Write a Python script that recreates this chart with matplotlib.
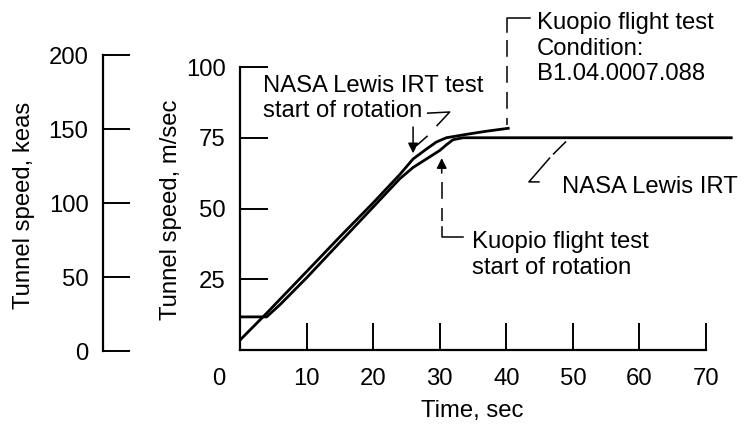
import matplotlib
matplotlib.use("Agg")
import matplotlib.pyplot as plt

plt.rcParams["font.family"] = ["Liberation Sans", "DejaVu Sans"]
FS = 17.2

# ---- data ----------------------------------------------------------------
# NASA Lewis IRT tunnel speed history (m/sec)
irt_time = [0, 4, 6, 10, 15, 20, 24, 26, 28, 30, 31, 32, 33.5, 74]
irt_speed = [11.7, 11.7, 16, 25.5, 38, 50.5, 60.5, 64.5, 67.5, 70.5, 72.5, 74.3, 75, 75]

# Kuopio flight test, condition B1.04.0007.088 (m/sec)
kuopio_time = [0, 4, 10, 15, 20, 24, 26, 28, 29.5, 31, 34, 37, 40.5]
kuopio_speed = [3.5, 13, 27.7, 40, 52, 62, 67.5, 71, 73.5, 75, 76.2, 77.3, 78.4]

time_ticks = [10, 20, 30, 40, 50, 60, 70]
ms_ticks = [25, 50, 75, 100]
keas_ticks = [0, 50, 100, 150, 200]

# ---- figure ----------------------------------------------------------------
W, H = 751, 429
fig = plt.figure(figsize=(W / 100, H / 100), dpi=100)

ax = fig.add_axes([240 / W, 1 - 350 / H, (706 - 240) / W, (350 - 67) / H])
axk = fig.add_axes([103 / W, 1 - 351 / H, 30 / W, (351 - 55) / H])

# main axes
ax.plot(irt_time, irt_speed, color="black", lw=2.0, clip_on=False,
        solid_capstyle="butt")
ax.plot(kuopio_time, kuopio_speed, color="black", lw=2.0, clip_on=False,
        solid_capstyle="butt")

ax.set_xlim(0, 70)
ax.set_ylim(0, 100)
for s in ("top", "right"):
    ax.spines[s].set_visible(False)
for s in ("left", "bottom"):
    ax.spines[s].set_linewidth(1.6)

ax.set_xticks(time_ticks)
ax.set_xticklabels([str(t) for t in time_ticks])
ax.set_yticks(ms_ticks)
ax.set_yticklabels([str(v) for v in ms_ticks])
ax.tick_params(axis="x", direction="in", length=19.5, width=1.4, pad=13,
               labelsize=FS)
ax.tick_params(axis="y", direction="in", length=20, width=1.4, pad=10.5,
               labelsize=FS)
# origin label sits left of the corner
ax.annotate("0", xy=(-3.2, 0), xycoords=("data", "axes fraction"),
            xytext=(0, -13), textcoords="offset points",
            ha="center", va="top", fontsize=FS)

ax.set_xlabel("Time, sec", fontsize=FS)
ax.xaxis.set_label_coords(472 / W, 1 - 400 / H, transform=fig.transFigure)
ax.set_ylabel("Tunnel speed, m/sec", fontsize=FS)
ax.yaxis.set_label_coords(182 / W, 1 - 210 / H, transform=fig.transFigure)

# keas scale
axk.set_ylim(0, 200)
axk.set_yticks(keas_ticks)
axk.set_yticklabels([str(v) for v in keas_ticks])
axk.tick_params(axis="y", direction="in", length=19.5, width=1.4, pad=10.5,
                labelsize=FS)
axk.xaxis.set_visible(False)
for s in ("top", "right", "bottom"):
    axk.spines[s].set_visible(False)
axk.spines["left"].set_linewidth(1.6)
axk.patch.set_visible(False)
axk.set_ylabel("Tunnel speed, keas", fontsize=FS)
axk.yaxis.set_label_coords(35 / W, 1 - 205 / H, transform=fig.transFigure)

# ---- annotations -----------------------------------------------------------
lead = dict(color="black", lw=1.1, clip_on=False)
dash = (0, (11, 6))
arrow = dict(arrowstyle="-|>", color="black", lw=1.1, mutation_scale=15,
             shrinkA=0, shrinkB=0)

# y given for the baseline of the last line
ax.text(3.45, 82.3, "NASA Lewis IRT test\nstart of rotation", fontsize=FS,
        ha="left", va="baseline")
ax.plot([28.2, 31.5, 29.6], [83.7, 84.1, 79.3], **lead)
ax.plot([28.1, 26.6], [75.5, 72.4], **lead)
ax.annotate("", xy=(26.0, 69.5), xytext=(26.0, 78.8), arrowprops=arrow)

ax.text(44.6, 95.4, "Kuopio flight test\nCondition:\nB1.04.0007.088",
        fontsize=FS, ha="left", va="baseline")
ax.plot([43.5, 40.1, 40.1], [117.3, 117.3, 112.5], **lead)
ax.plot([40.1, 40.1], [109.5, 79.5], ls=dash, **lead)

ax.text(34.8, 26.9, "Kuopio flight test\nstart of rotation", fontsize=FS,
        ha="left", va="baseline")
ax.annotate("", xy=(30.3, 67.8), xytext=(30.3, 62.5), arrowprops=arrow)
ax.plot([30.3, 30.3], [59.5, 45.5], ls=dash, **lead)
ax.plot([30.3, 30.3, 33.5], [43.5, 39.9, 39.9], **lead)

ax.text(48.3, 55.5, "NASA Lewis IRT", fontsize=FS, ha="left", va="baseline")
ax.plot([44.9, 43.4, 46.5], [59.4, 59.4, 67.8], **lead)
ax.plot([47.1, 48.9], [69.3, 73.5], **lead)

fig.savefig("out.png", dpi=100)
